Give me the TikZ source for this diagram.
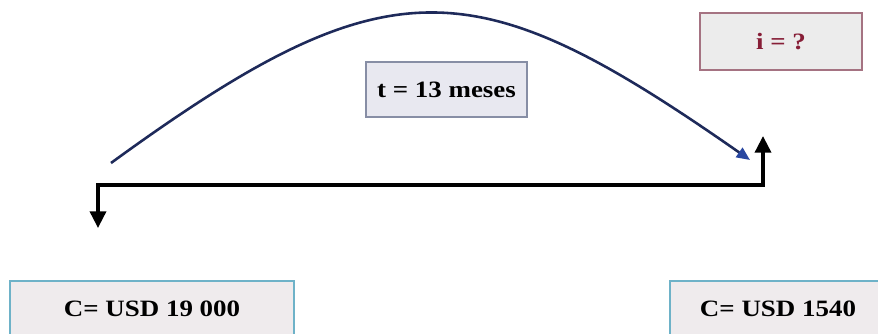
\documentclass[tikz,border=0pt]{standalone}
\usepackage{fontspec}
\setmainfont{Liberation Serif}
\usetikzlibrary{arrows.meta,positioning}
\definecolor{arcblue}{RGB}{30,42,90}
\definecolor{tipblue}{RGB}{40,70,160}
\definecolor{capfill}{RGB}{239,235,237}
\definecolor{capline}{RGB}{110,178,200}
\definecolor{ratered}{RGB}{135,30,55}
\definecolor{rateline}{RGB}{165,115,130}
\definecolor{ratefill}{RGB}{236,236,236}
\definecolor{timefill}{RGB}{232,232,240}
\definecolor{timeline}{RGB}{135,142,165}
\newcommand{\wide}[1]{\scalebox{1.15}[1]{#1}}

\begin{document}
\begin{tikzpicture}[x=0.03cm,y=-0.03cm,>={Triangle[length=0.5cm,width=0.48cm]},font=\fontsize{20}{23}\selectfont\bfseries]
  \useasboundingbox (0,0) rectangle (878,333);
  \clip (0,0) rectangle (878,333);
  \tikzset{box/.style={draw,line width=1.2pt,inner sep=0pt}}
  % boxes
  \node[box,draw=capline,fill=capfill,minimum width=8.52cm,minimum height=1.68cm] (capleft) at (152,309) {\wide{C= USD 19 000}};
  \node[box,draw=capline,fill=capfill,minimum width=6.48cm,minimum height=1.68cm] (capright) at (778,309) {\wide{C= USD 1540}};
  \node[box,draw=rateline,fill=ratefill,text=ratered,minimum width=4.86cm,minimum height=1.71cm] (rate) at (781,41.5) {\wide{i = ?}};
  \node[box,draw=timeline,fill=timefill,minimum width=4.83cm,minimum height=1.65cm] (time) at (446.5,89.5) {\wide{t = 13 meses}};
  % time line
  \coordinate (down) at (98,228);
  \coordinate (t0) at (98,185);
  \coordinate (t1) at (763,185);
  \coordinate (up) at (763,136);
  \draw[<->,line width=3pt] (down) -- (t0) -- (t1) -- (up);
  % arc
  \coordinate (a0) at (111,163);
  \coordinate (a1) at (750,160);
  \draw[arcblue,line width=2.2pt,-{Triangle[length=0.4cm,width=0.34cm,color=tipblue]}] (a0) .. controls (390,-40) and (475,-32) .. (a1);
\end{tikzpicture}
\end{document}
